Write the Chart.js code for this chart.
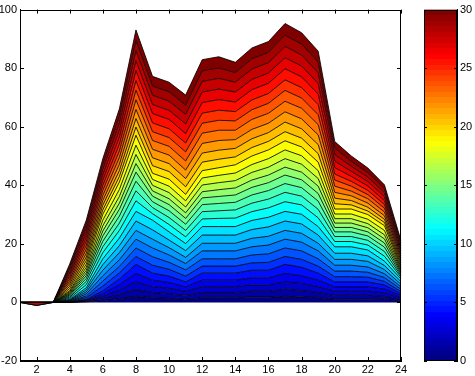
<!DOCTYPE html>
<html>
<head>
<meta charset="utf-8">
<script src="https://cdn.jsdelivr.net/npm/chart.js@4.4.1/dist/chart.umd.min.js"></script>
<style>
html,body{margin:0;padding:0;background:#fff;}
#wrap{position:relative;width:475px;height:376px;}
#wrap canvas{position:absolute;left:0;top:0;}
</style>
</head>
<body>
<div id="wrap">
<canvas id="main" width="475" height="376"></canvas>
<canvas id="cbar" width="475" height="376"></canvas>
</div>
<script>
// ---- data ----
const hours = [1,2,3,4,5,6,7,8,9,10,11,12,13,14,15,16,17,18,19,20,21,22,23,24];
const xTicks = [2,4,6,8,10,12,14,16,18,20,22,24];
const yTicks = [-20,0,20,40,60,80,100];
const colorbarTicks = [0,5,10,15,20,25,30];
const colorbarRange = [0,30];

const s1  = [0,0,0,0,0.2,0.6,1.3,2.1,1.6,1.4,1.1,1.6,1.6,1.6,1.8,1.8,2.1,1.9,1.6,1.1,1.1,1.1,1,0.5];
const s2  = [0,0,0,0,0.2,0.7,1.4,2.3,1.8,1.6,1.3,1.8,1.8,1.8,2,2,2.3,2.2,1.8,1.3,1.3,1.3,1.1,0.5];
const s3  = [0,0,0,0,0.2,0.8,1.6,2.6,2,1.8,1.4,2,2,2,2.2,2.2,2.6,2.4,2,1.4,1.4,1.4,1.2,0.6];
const s4  = [0,0,0,0.1,0.2,0.9,1.8,2.9,2.2,2,1.5,2.2,2.2,2.2,2.4,2.4,2.9,2.6,2.2,1.5,1.5,1.5,1.3,0.7];
const s5  = [0,0,0,0.1,0.2,1,1.9,3.1,2.4,2.2,1.7,2.4,2.4,2.4,2.6,2.6,3.1,2.9,2.4,1.7,1.7,1.7,1.4,0.7];
const s6  = [0,0,0,0.1,0.6,1.6,2.1,2.7,2.7,2.3,2,2.4,2.4,2.4,2.5,2.7,2.7,2.7,2.4,1.8,1.8,1.6,1.2,0.7];
const s7  = [0,0,0,0.1,0.6,1.7,2.2,2.9,2.9,2.4,2.1,2.5,2.5,2.5,2.7,2.9,2.9,2.9,2.5,1.9,1.9,1.7,1.3,0.8];
const s8  = [0,0,0,0.1,0.7,1.8,2.3,3,3,2.5,2.2,2.7,2.7,2.7,2.8,3,3,3,2.7,2,2,1.8,1.3,0.8];
const s9  = [0,0,0,0.15,0.7,1.9,2.4,3,3,2.5,2.1,2.6,2.6,2.6,2.9,3,3,3,2.6,2,2,1.9,1.4,0.9];
const s10 = [0,0,0,0.15,0.7,1.9,2.4,3.2,3.2,2.6,2.3,2.8,2.8,2.8,3,3.2,3.2,3.2,2.8,2.1,2.1,1.9,1.4,0.9];
const s11 = [0,0,0,0.2,0.7,2,2.6,3.3,3.3,2.8,2.4,2.9,2.9,2.9,3.1,3.3,3.3,3.3,2.9,2.2,2.2,2,1.5,0.9];
const s12 = [0,0,0,0.4,1.1,2.1,2.6,3.6,2.2,2.5,2.3,2.6,2.8,2.9,3,3.2,3.3,3.2,3,1.8,1.8,1.7,1.7,0.6];
const s13 = [0,0,0,0.4,1.1,2,2.5,3.4,2.1,2.4,2.2,2.5,2.6,2.8,2.9,3,3.2,3,2.9,1.7,1.7,1.6,1.6,0.5];
const s14 = [0,0,0,0.4,1,1.9,2.4,3.3,2,2.3,2.1,2.4,2.5,2.6,2.8,2.9,3,2.9,2.8,1.6,1.6,1.5,1.5,0.5];
const s15 = [0,0,0,0.35,0.95,1.8,2.3,3.1,1.9,2.1,2,2.3,2.4,2.5,2.6,2.7,2.9,2.7,2.6,1.5,1.5,1.4,1.4,0.5];
const s16 = [0,0,0,0.35,0.9,1.7,2.1,2.9,1.8,2,1.9,2.1,2.3,2.4,2.5,2.6,2.7,2.6,2.5,1.5,1.5,1.4,1.4,0.45];
const s17 = [0,0,0,0.35,0.95,1.8,2.3,3.1,1.9,2.1,2,2.3,2.4,2.5,2.6,2.7,2.9,2.7,2.6,1.5,1.5,1.4,1.4,0.5];
const s18 = [0,0,0,0.4,1,1.9,2.4,3.2,2,2.2,2.1,2.4,2.5,2.6,2.7,2.9,3,2.9,2.7,1.6,1.6,1.5,1.5,0.5];
const s19 = [0,0,0,0.4,1.05,2,2.5,3.4,2.1,2.4,2.2,2.5,2.6,2.8,2.9,3,3.1,3,2.9,1.7,1.7,1.6,1.6,0.5];
const s20 = [0,0,0,0.7,1.2,1.5,1.9,2.8,2.6,2.6,2.6,2.9,2.9,2.7,2.9,2.9,3.1,3,2.9,1.8,1.4,1.2,1.1,0.7];
const s21 = [0,0,0,0.75,1.2,1.6,2,2.9,2.7,2.7,2.8,3.1,3.1,2.9,3,3,3.3,3.2,3.1,1.9,1.5,1.3,1.1,0.75];
const s22 = [0,0,0,0.8,1.3,1.6,2.2,3.1,2.9,2.9,2.9,3.3,3.3,3,3.2,3.2,3.5,3.4,3.3,2,1.6,1.4,1.2,0.8];
const s23 = [0,0,0,0.8,1.4,1.7,2.3,3.3,3,3,3.1,3.5,3.5,3.2,3.4,3.4,3.6,3.6,3.5,2.1,1.6,1.5,1.3,0.8];
const s24 = [0,0,0,0.8,1.35,1.75,2.25,3.25,3,3,3.1,3.4,3.4,3.2,3.3,3.4,3.7,3.5,3.4,2.1,1.7,1.4,1.3,0.8];
const s25 = [0,0,0,0.85,1.35,1.7,2.3,3.3,3,3,3.05,3.45,3.45,3.15,3.35,3.35,3.6,3.55,3.45,2.05,1.65,1.45,1.25,0.85];
const s26 = [0,0,0,0.85,1.4,1.8,2.4,3.4,3.2,3.2,3.2,3.6,3.6,3.3,3.5,3.5,3.8,3.7,3.6,2.2,1.7,1.5,1.3,0.85];
const s27 = [0,0,0,0.85,1.45,1.8,2.4,3.4,3.1,3.1,3.3,3.6,3.6,3.4,3.5,3.5,3.8,3.7,3.6,2.2,1.7,1.5,1.35,0.85];
const s28 = [0,-1,0,0.9,1.4,1.85,2.35,3.45,3.15,3.15,3.25,3.65,3.65,3.35,3.55,3.55,3.85,3.75,3.65,2.2,1.75,1.55,1.35,0.9];
const s29 = [0,0,0,0.85,1.45,1.8,2.4,3.45,3.15,3.15,3.2,3.6,3.6,3.3,3.5,3.5,3.8,3.7,3.6,2.2,1.7,1.5,1.3,0.85];
const s30 = [0,0,0,0.9,1.5,1.9,2.5,3.6,3.3,3.3,3.4,3.8,3.8,3.5,3.7,3.7,4,3.9,3.8,2.3,1.8,1.6,1.4,0.9];

const seriesList = [s1,s2,s3,s4,s5,s6,s7,s8,s9,s10,s11,s12,s13,s14,s15,s16,s17,s18,s19,s20,s21,s22,s23,s24,s25,s26,s27,s28,s29,s30];

// ---- styling ----
function jet(t){
  const f = v => Math.round(255*Math.max(0, Math.min(1, v)));
  return 'rgb(' + f(1.5-Math.abs(4*t-3)) + ',' + f(1.5-Math.abs(4*t-2)) + ',' + f(1.5-Math.abs(4*t-1)) + ')';
}
const FONT = {family: '"Liberation Sans", Arial, Helvetica, sans-serif', size: 11};

function inwardTicksPlugin(xVals, yVals, xScaleId, yScaleId, tick){
  return {
    id: 'inward_' + yScaleId,
    afterDraw(chart){
      const c = chart.ctx, a = chart.chartArea;
      c.save();
      c.strokeStyle = '#000';
      c.lineWidth = 1;
      c.strokeRect(Math.round(a.left)+0.5, Math.round(a.top)+0.5, Math.round(a.right-a.left)-1, Math.round(a.bottom-a.top)-1);
      c.beginPath();
      if (xVals && xScaleId){
        const xs = chart.scales[xScaleId];
        xVals.forEach(v => {
          const px = Math.round(xs.getPixelForValue(hours.indexOf(v))) + 0.5;
          c.moveTo(px, a.bottom); c.lineTo(px, a.bottom - tick);
          c.moveTo(px, a.top); c.lineTo(px, a.top + tick);
        });
      }
      const ys = chart.scales[yScaleId];
      yVals.forEach(v => {
        const py = Math.round(ys.getPixelForValue(v)) + 0.5;
        c.moveTo(a.left, py); c.lineTo(a.left + tick, py);
        c.moveTo(a.right, py); c.lineTo(a.right - tick, py);
      });
      c.stroke();
      c.restore();
    }
  };
}

// ---- main stacked area chart ----
const datasets = seriesList.map((s, i) => ({
  data: s,
  backgroundColor: jet(i/(seriesList.length-1)),
  borderColor: 'rgba(0,0,0,0.85)',
  borderWidth: 1,
  pointRadius: 0,
  tension: 0,
  fill: i === 0 ? 'origin' : '-1'
}));

new Chart(document.getElementById('main'), {
  type: 'line',
  data: {labels: hours, datasets: datasets},
  options: {
    responsive: false,
    animation: false,
    devicePixelRatio: 1,
    layout: {padding: {top: 9, right: 74, left: 0, bottom: 0}},
    plugins: {legend: {display: false}, tooltip: {enabled: false}},
    scales: {
      x: {
        type: 'category',
        grid: {display: false, drawTicks: false},
        border: {display: true, color: '#000'},
        ticks: {
          font: FONT, color: '#000', autoSkip: false, maxRotation: 0, padding: 2,
          callback: (v, i) => xTicks.includes(hours[i]) ? String(hours[i]) : ''
        },
        afterFit: s => { s.height = 15; }
      },
      y: {
        stacked: true,
        min: yTicks[0], max: yTicks[yTicks.length-1],
        grid: {display: false, drawTicks: false},
        border: {display: true, color: '#000'},
        ticks: {font: FONT, color: '#000', stepSize: 20, padding: 3},
        afterFit: s => { s.width = 20; }
      }
    }
  },
  plugins: [inwardTicksPlugin(xTicks, yTicks, 'x', 'y', 4)]
});

// ---- colorbar ----
function cbarGradient(ctx){
  const chart = ctx.chart, a = chart.chartArea;
  if (!a) return 'rgb(0,0,128)';
  const g = chart.ctx.createLinearGradient(0, a.bottom, 0, a.top);
  const n = 64;
  for (let i = 0; i < n; i++){
    const col = jet(i/(n-1));
    g.addColorStop(i/n, col);
    g.addColorStop((i+1)/n - 0.0001, col);
  }
  return g;
}

new Chart(document.getElementById('cbar'), {
  type: 'bar',
  data: {labels: [''], datasets: [{data: [colorbarRange], backgroundColor: cbarGradient, borderWidth: 0, barPercentage: 1, categoryPercentage: 1}]},
  options: {
    responsive: false,
    animation: false,
    devicePixelRatio: 1,
    layout: {padding: {top: 9, right: 0, left: 424, bottom: 15}},
    plugins: {legend: {display: false}, tooltip: {enabled: false}},
    scales: {
      x: {display: false},
      y: {
        position: 'right',
        min: colorbarRange[0], max: colorbarRange[1],
        grid: {display: false, drawTicks: false},
        border: {display: true, color: '#000'},
        ticks: {font: FONT, color: '#000', stepSize: 5, padding: 3},
        afterFit: s => { s.width = 18; }
      }
    }
  },
  plugins: [inwardTicksPlugin(null, colorbarTicks, null, 'y', 3)]
});
</script>
</body>
</html>
